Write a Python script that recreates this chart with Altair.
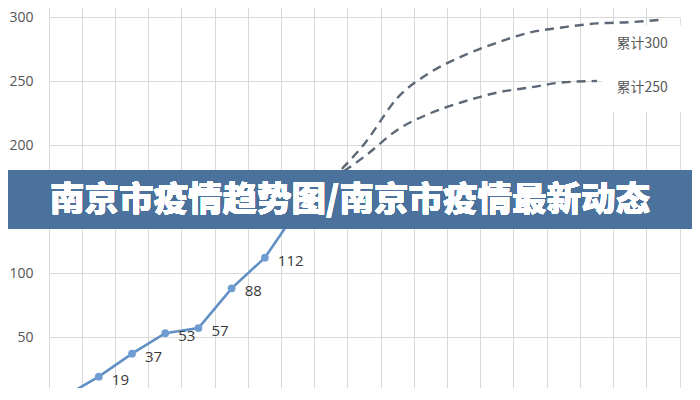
import altair as alt
import pandas as pd

# ---- data ----
days = list(range(1, 20))
actual_days = [1, 2, 3, 4, 5, 6, 7, 8, 9]
actual_values = [4, 19, 37, 53, 57, 88, 112, 150, 173]
p300_days = [9, 10, 11, 12, 13, 14, 15, 16, 17, 18, 19]
p300_values = [173, 201, 237, 257, 270, 280, 288, 292, 295, 296, 298]
p250_days = [9, 10, 11, 12, 13, 14, 15, 16, 17]
p250_values = [173, 191, 212, 225, 234, 241, 245, 249, 250]
y_ticks = [0, 50, 100, 150, 200, 250, 300]
label300 = "累计300"
label250 = "累计250"
banner_text = "南京市疫情趋势图/南京市疫情最新动态"

actual = pd.DataFrame({"day": actual_days, "value": actual_values})
proj = pd.concat([
    pd.DataFrame({"day": p300_days, "value": p300_values, "series": label300}),
    pd.DataFrame({"day": p250_days, "value": p250_values, "series": label250}),
])
lab300 = pd.DataFrame({"day": [p300_days[-2]], "value": [p300_values[-1]], "text": [label300]})
lab250 = pd.DataFrame({"day": [p300_days[-2]], "value": [p250_values[-1]], "text": [label250]})

GRID = "#d9d9d9"
x = alt.X("day:O",
          scale=alt.Scale(type="band", domain=days, paddingInner=0, paddingOuter=0),
          bandPosition=0.5,
          axis=alt.Axis(labels=False, ticks=False, domain=False, title=None,
                        grid=True, bandPosition=0, gridColor=GRID, gridWidth=1))
y = alt.Y("value:Q",
          scale=alt.Scale(domain=[0, 300], nice=False, range=[384, 0]),
          axis=alt.Axis(values=y_ticks, title=None, ticks=False, domain=False,
                        labelPadding=16, labelColor="#555555", labelFontSize=14,
                        labelFont="Open Sans", gridColor=GRID, gridWidth=1))

base_actual = alt.Chart(actual)

label_box = base_actual.mark_rect(color="white").encode(
    x=alt.value(553), x2=alt.value(641), y=alt.value(8), y2=alt.value(95))

dashed = alt.Chart(proj).mark_line(
    strokeDash=[9, 6], strokeWidth=2.4, color="#5c6875", interpolate="monotone"
).encode(x=x, y=y, detail="series:N")

line = base_actual.mark_line(color="#6090c4", strokeWidth=2.6).encode(x=x, y=y)
pts = base_actual.mark_point(filled=True, size=60, color="#6f9dd2", opacity=1).encode(x=x, y=y)
vals = base_actual.mark_text(align="left", baseline="middle", dx=13, dy=3,
                             fontSize=15, color="#383838", font="Open Sans").encode(
    x=x, y=y, text="value:Q")

t300 = alt.Chart(lab300).mark_text(align="center", baseline="middle", dx=12, dy=24,
                                   fontSize=14, color="#595959",
                                   font="Noto Sans CJK SC").encode(x=x, y=y, text="text:N")
t250 = alt.Chart(lab250).mark_text(align="center", baseline="middle", dx=12, dy=7,
                                   fontSize=14, color="#595959",
                                   font="Noto Sans CJK SC").encode(x=x, y=y, text="text:N")

banner = base_actual.mark_rect(color="#4a729d", opacity=0.86).encode(
    x=alt.value(-41), x2=alt.value(643), y=alt.value(153), y2=alt.value(212))
banner_t = base_actual.mark_text(
    text=banner_text, align="center", baseline="middle", fontSize=34.5,
    fontWeight=900, color="white", font="Noto Sans CJK SC").encode(
    x=alt.value(301), y=alt.value(184))

chart = alt.layer(
    label_box, dashed, line, pts, vals, t300, t250, banner, banner_t
).properties(
    width=631, height=371,
    padding={"left": 41, "top": 9, "right": 12, "bottom": 0},
    autosize=alt.AutoSizeParams(type="none"),
).configure_view(stroke=None).configure(background="white")

chart.save("out.html", embed_options={"renderer": "svg", "actions": False})
